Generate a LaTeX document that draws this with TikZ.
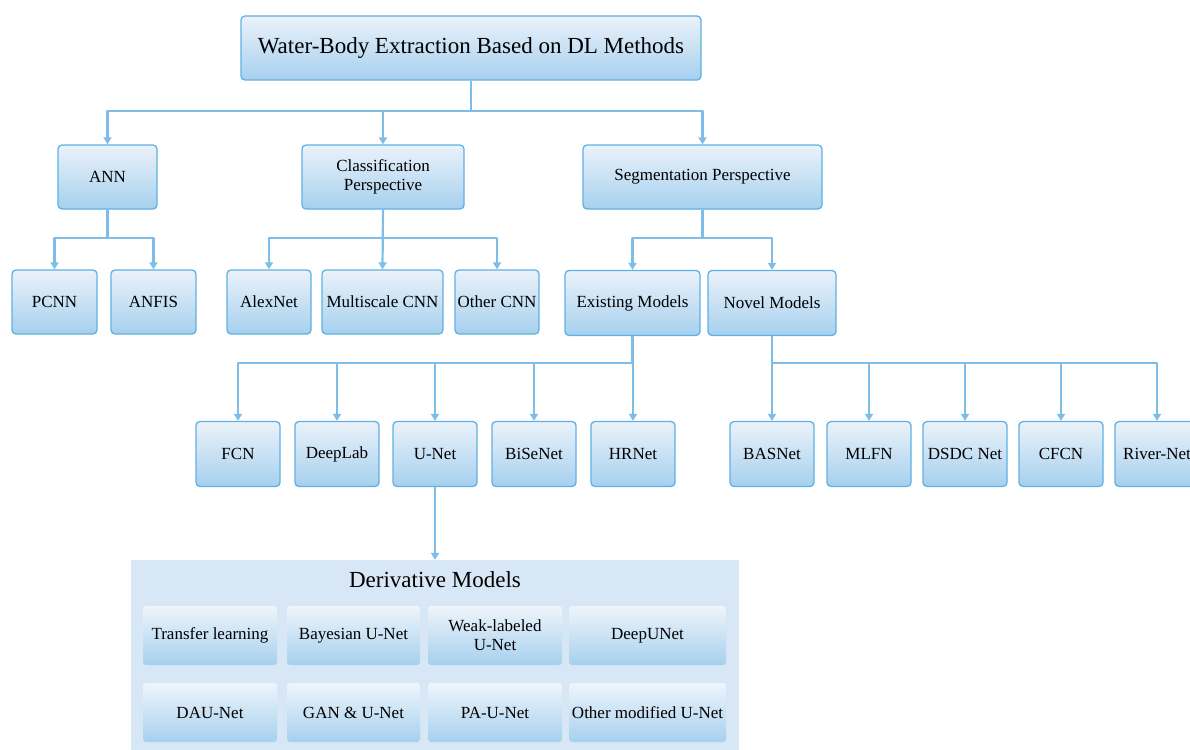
\documentclass[tikz,border=0pt]{standalone}
\usepackage{fontspec}
\setmainfont{Liberation Serif}
\usetikzlibrary{arrows.meta,shadings}
\definecolor{boxtop}{HTML}{EBF2FA}
\definecolor{boxbot}{HTML}{A6D0EE}
\definecolor{boxline}{HTML}{5FB1E4}
\definecolor{conncol}{HTML}{7EBDE8}
\definecolor{panelbg}{HTML}{D8E7F5}
\tikzset{
  box/.style={draw=boxline, line width=1.3pt, rounded corners=4pt,
    top color=boxtop, bottom color=boxbot, align=center,
    font=\fontsize{17}{19}\selectfont, inner sep=2pt},
  smallbox/.style={box, minimum width=84pt, minimum height=64pt},
  inbox/.style={rounded corners=3pt, top color=boxtop!80!white, bottom color=boxbot,
    align=center, font=\fontsize{17}{19}\selectfont, minimum height=59pt, inner sep=2pt},
  conn/.style={draw=conncol, line width=2.2pt, line join=round, -{Triangle[width=8pt,length=7pt]}},
}
\begin{document}
\begin{tikzpicture}[x=1pt,y=-1pt]
\useasboundingbox (0,0) rectangle (1190,749);
\clip (0,0) rectangle (1190,749);
% top
\node[box, minimum width=460pt, minimum height=64pt, font=\fontsize{23}{26}\selectfont] (top) at (471,48) {Water-Body Extraction Based on DL Methods};
% level 1
\node[box, minimum width=99pt, minimum height=64pt] (ann) at (107.5,177) {ANN};
\node[box, minimum width=162pt, minimum height=64pt] (cls) at (383,177) {Classification\\Perspective};
\node[box, minimum width=239pt, minimum height=64pt] (seg) at (702.5,177) {Segmentation Perspective};
% level 2
\node[smallbox, minimum width=85pt] (pcnn) at (54.5,302) {PCNN};
\node[smallbox, minimum width=85pt] (anfis) at (153.5,302) {ANFIS};
\node[smallbox] (alex) at (269,302) {AlexNet};
\node[smallbox, minimum width=121pt] (multi) at (382.5,302) {Multiscale CNN};
\node[smallbox] (ocnn) at (497,302) {Other CNN};
\node[smallbox, minimum width=135pt, minimum height=65pt] (exist) at (632.5,303) {Existing Models};
\node[smallbox, minimum width=128pt, minimum height=65pt] (novel) at (772,303) {Novel Models};
% level 3
\foreach \n/\x/\t in {fcn/238/FCN, deeplab/337/DeepLab, unet/435/U-Net, bisenet/534/BiSeNet, hrnet/633/HRNet,
  basnet/772/BASNet, mlfn/869/MLFN, dsdc/965/DSDC Net, cfcn/1061/CFCN, river/1157/River-Net}
  \node[smallbox, minimum height=65pt] (\n) at (\x,454) {\t};
% derivative panel
\node[fill=panelbg, minimum width=608pt, minimum height=200pt, inner sep=0pt] (panel) at (435,660) {};
\node[font=\fontsize{23}{26}\selectfont] (dtitle) at (435,580) {Derivative Models};
\node[inbox, minimum width=134pt] (d1) at (210,635.5) {Transfer learning};
\node[inbox, minimum width=133pt] (d2) at (353.5,635.5) {Bayesian U-Net};
\node[inbox, minimum width=134pt] (d3) at (495,635.5) {Weak-labeled\\U-Net};
\node[inbox, minimum width=157pt] (d4) at (647.5,635.5) {DeepUNet};
\node[inbox, minimum width=134pt] (d5) at (210,712.5) {DAU-Net};
\node[inbox, minimum width=133pt] (d6) at (353.5,712.5) {GAN \& U-Net};
\node[inbox, minimum width=134pt] (d7) at (495,712.5) {PA-U-Net};
\node[inbox, minimum width=157pt] (d8) at (647.5,712.5) {Other modified U-Net};
% connectors
\draw[conn] (top.south) -- ++(0,30) -| (ann.north);
\draw[conn] (top.south) -- ++(0,30) -| (cls.north);
\draw[conn] (top.south) -- ++(0,30) -| (seg.north);
\draw[conn] (ann.south) -- ++(0,28) -| (pcnn.north);
\draw[conn] (ann.south) -- ++(0,28) -| (anfis.north);
\draw[conn] (cls.south) -- ++(0,28) -| (alex.north);
\draw[conn] (cls.south) -- (multi.north);
\draw[conn] (cls.south) -- ++(0,28) -| (ocnn.north);
\draw[conn] (seg.south) -- ++(0,28) -| (exist.north);
\draw[conn] (seg.south) -- ++(0,28) -| (novel.north);
\foreach \n in {fcn,deeplab,unet,bisenet,hrnet}
  \draw[conn] (exist.south) -- ++(0,26.5) -| (\n.north);
\foreach \n in {basnet,mlfn,dsdc,cfcn,river}
  \draw[conn] (novel.south) -- ++(0,26.5) -| (\n.north);
\draw[conn] (unet.south) -- (unet.south |- panel.north);
\end{tikzpicture}
\end{document}
